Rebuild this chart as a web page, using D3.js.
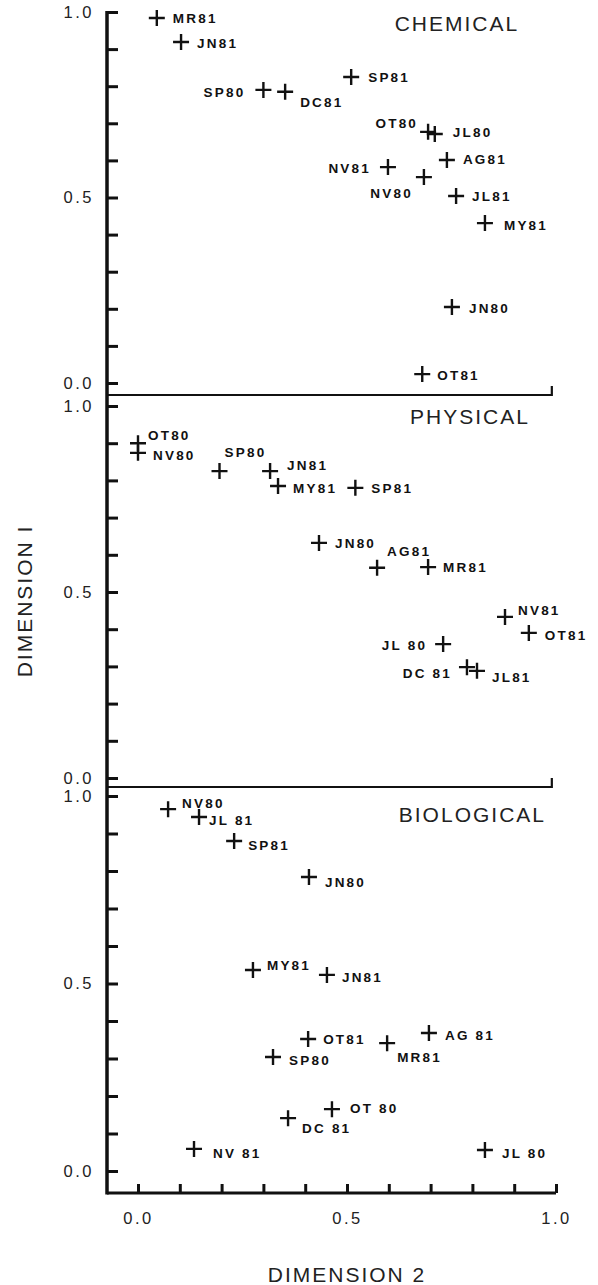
<!DOCTYPE html>
<html>
<head>
<meta charset="utf-8">
<script src="https://cdn.jsdelivr.net/npm/d3@7"></script>
<style>
  body { margin: 0; background: #fff; }
  svg { display: block; }
  .pt path { stroke: #111; stroke-width: 2.4; fill: none; }
  .pt text { font-family: "Liberation Sans", Arial, sans-serif; font-weight: bold; font-size: 13.5px; letter-spacing: 2.2px; fill: #111; }
  .ttl { font-family: "Liberation Sans", Arial, sans-serif; font-size: 21px; letter-spacing: 2px; fill: #222; }
  .axis text { font-family: "Liberation Sans", Arial, sans-serif; font-size: 16.5px; letter-spacing: 2.5px; fill: #222; }
  .axis line { stroke: #111; stroke-width: 3; }
  .axis .domain { display: none; }
</style>
</head>
<body>
<svg id="chart" width="598" height="1285"></svg>
<script>
// chemical panel
var chemNames = ['MR81', 'JN81', 'SP80', 'DC81', 'SP81', 'OT80', 'JL80', 'NV81', 'AG81', 'NV80', 'JL81', 'MY81', 'JN80', 'OT81'];
var chemDim2 = [0.045, 0.103, 0.300, 0.352, 0.510, 0.694, 0.710, 0.598, 0.739, 0.684, 0.761, 0.830, 0.751, 0.680];
var chemDim1 = [0.984, 0.919, 0.790, 0.785, 0.825, 0.677, 0.671, 0.582, 0.601, 0.555, 0.504, 0.431, 0.205, 0.024];

// physical panel
var physNames = ['OT80', 'NV80', 'SP80', 'JN81', 'MY81', 'SP81', 'JN80', 'AG81', 'MR81', 'NV81', 'OT81', 'JL 80', 'DC 81', 'JL81'];
var physDim2 = [0.000, 0.000, 0.195, 0.316, 0.335, 0.520, 0.433, 0.572, 0.694, 0.878, 0.935, 0.730, 0.787, 0.811];
var physDim1 = [0.900, 0.874, 0.825, 0.825, 0.785, 0.780, 0.632, 0.565, 0.567, 0.433, 0.390, 0.360, 0.298, 0.288];

// biological panel
var bioNames = ['NV80', 'JL 81', 'SP81', 'JN80', 'MY81', 'JN81', 'OT81', 'AG 81', 'MR81', 'SP80', 'DC 81', 'OT 80', 'NV 81', 'JL 80'];
var bioDim2 = [0.072, 0.146, 0.230, 0.409, 0.275, 0.452, 0.407, 0.696, 0.596, 0.323, 0.359, 0.464, 0.134, 0.830];
var bioDim1 = [0.965, 0.944, 0.880, 0.784, 0.536, 0.523, 0.352, 0.368, 0.341, 0.304, 0.141, 0.165, 0.059, 0.056];

var tickValues = d3.range(0, 11).map(function(i) { return i / 10; });
var tickLabels = [0, 0.5, 1];

// label nudges [dx, dy], negative dx = text ends left of the cross
var labelPos = {
  CHEMICAL: { 'MR81': [16, 5], 'JN81': [16, 6], 'SP80': [-18, 7], 'DC81': [15, 15], 'SP81': [17, 5],
    'OT80': [-10, -4], 'JL80': [18, 3], 'NV81': [-17, 6], 'AG81': [16, 4], 'NV80': [-11, 21],
    'JL81': [16, 5], 'MY81': [19, 7], 'JN80': [17, 6], 'OT81': [15, 6] },
  PHYSICAL: { 'OT80': [10, -3], 'NV80': [15, 7], 'SP80': [5, -14], 'JN81': [17, -1], 'MY81': [15, 7],
    'SP81': [16, 5], 'JN80': [16, 5], 'AG81': [10, -12], 'MR81': [15, 5], 'NV81': [13, -2],
    'OT81': [16, 7], 'JL 80': [-16, 6], 'DC 81': [-15, 11], 'JL81': [15, 11] },
  BIOLOGICAL: { 'NV80': [14, -1], 'JL 81': [10, 8], 'SP81': [14, 9], 'JN80': [16, 10], 'MY81': [14, 0],
    'JN81': [15, 7], 'OT81': [15, 5], 'AG 81': [16, 7], 'MR81': [10, 19], 'SP80': [16, 8],
    'DC 81': [14, 15], 'OT 80': [18, 4], 'NV 81': [19, 9], 'JL 80': [17, 8] }
};

var axisLeftX = 107;
var x = d3.scaleLinear().domain([0, 1]).range([138, 556]);

var panels = [
  { title: 'CHEMICAL', names: chemNames, d2: chemDim2, d1: chemDim1, top: 12, bottom: 383, line: 395, titleX: 0.763, titleDy: 19 },
  { title: 'PHYSICAL', names: physNames, d2: physDim2, d1: physDim1, top: 406, bottom: 778, line: 787, titleX: 0.794, titleDy: 18 },
  { title: 'BIOLOGICAL', names: bioNames, d2: bioDim2, d1: bioDim1, top: 796, bottom: 1171, line: 1193, titleX: 0.80, titleDy: 26 }
];

var svg = d3.select('#chart');
var fmt = d3.format('.1f');

panels.forEach(function(p, i) {
  var y = d3.scaleLinear().domain([0, 1]).range([p.bottom, p.top]);
  var g = svg.append('g');

  var yAxis = d3.axisLeft(y)
    .tickValues(tickValues)
    .tickSizeInner(-11)
    .tickSizeOuter(0)
    .tickPadding(13)
    .tickFormat(function(d) { return tickLabels.indexOf(d) >= 0 ? fmt(d) : ''; });

  g.append('g')
    .attr('class', 'axis')
    .attr('transform', 'translate(' + axisLeftX + ',0)')
    .call(yAxis);

  // separator line under the panel (last one is the real x axis)
  if (i < panels.length - 1) {
    var xr = x(0.99);
    g.append('path')
      .attr('d', 'M' + axisLeftX + ',' + p.line + 'H' + xr + 'V' + (p.line - 9))
      .attr('stroke', '#111')
      .attr('stroke-width', 2.2)
      .attr('fill', 'none');
  }

  g.append('text')
    .attr('class', 'ttl')
    .attr('x', x(p.titleX))
    .attr('y', p.top + p.titleDy)
    .attr('text-anchor', 'middle')
    .text(p.title);

  var pts = p.names.map(function(n, j) { return { name: n, d2: p.d2[j], d1: p.d1[j] }; });

  var pt = g.selectAll('.pt')
    .data(pts)
    .enter().append('g')
      .attr('class', 'pt')
      .attr('transform', function(d) { return 'translate(' + x(d.d2) + ',' + y(d.d1) + ')'; });

  pt.append('path')
    .attr('d', 'M-8,0H8M0,-8V8');

  pt.append('text')
    .attr('x', function(d) { return labelPos[p.title][d.name][0]; })
    .attr('y', function(d) { return labelPos[p.title][d.name][1]; })
    .attr('text-anchor', function(d) { return labelPos[p.title][d.name][0] < 0 ? 'end' : 'start'; })
    .text(function(d) { return d.name; });
});

// bottom dimension 2 axis
var last = panels[panels.length - 1];
var xAxis = d3.axisBottom(x)
  .tickValues(tickValues)
  .tickSizeInner(-9)
  .tickSizeOuter(0)
  .tickPadding(19)
  .tickFormat(function(d) { return tickLabels.indexOf(d) >= 0 ? fmt(d) : ''; });

svg.append('g')
  .attr('class', 'axis')
  .attr('transform', 'translate(0,' + last.line + ')')
  .call(xAxis);

svg.append('line')
  .attr('x1', axisLeftX).attr('x2', x(1))
  .attr('y1', last.line).attr('y2', last.line)
  .attr('stroke', '#111').attr('stroke-width', 3);

// continuous dimension 1 axis line
svg.append('line')
  .attr('x1', axisLeftX).attr('x2', axisLeftX)
  .attr('y1', panels[0].top - 1).attr('y2', last.line + 1.5)
  .attr('stroke', '#111').attr('stroke-width', 3.5);

svg.append('text')
  .attr('class', 'ttl')
  .attr('transform', 'translate(32,601) rotate(-90)')
  .attr('text-anchor', 'middle')
  .text('DIMENSION I');

svg.append('text')
  .attr('class', 'ttl')
  .attr('x', 347)
  .attr('y', 1282)
  .attr('text-anchor', 'middle')
  .text('DIMENSION 2');
</script>
</body>
</html>
